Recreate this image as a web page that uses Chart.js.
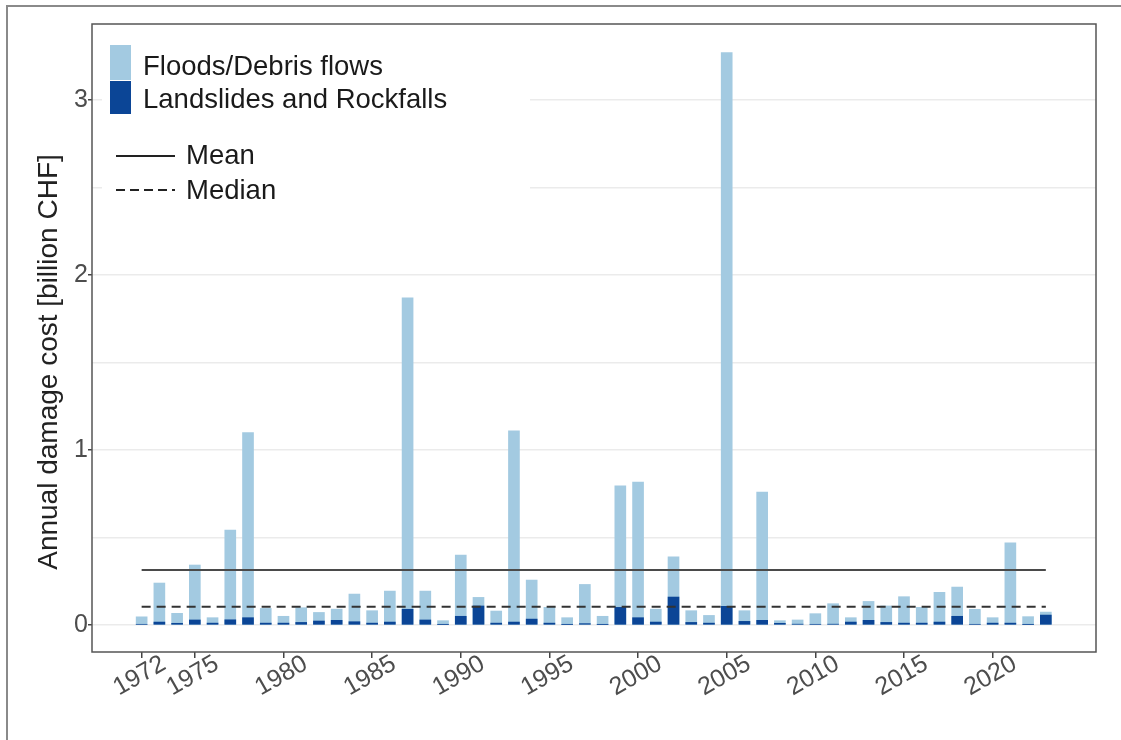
<!DOCTYPE html>
<html>
<head>
<meta charset="utf-8">
<script src="https://cdn.jsdelivr.net/npm/chart.js@4.4.1/dist/chart.umd.min.js"></script>
<style>
  html, body { margin: 0; padding: 0; background: #fff; }
  #c { display: block; }
</style>
</head>
<body>
<canvas id="c" width="1121" height="740"></canvas>
<script>
// ---------------- DATA ----------------
const years = [1972,1973,1974,1975,1976,1977,1978,1979,1980,1981,1982,1983,1984,1985,1986,1987,1988,1989,1990,1991,1992,1993,1994,1995,1996,1997,1998,1999,2000,2001,2002,2003,2004,2005,2006,2007,2008,2009,2010,2011,2012,2013,2014,2015,2016,2017,2018,2019,2020,2021,2022,2023];
const floodsDebris = [0.047,0.24,0.067,0.343,0.042,0.543,1.10,0.095,0.05,0.099,0.072,0.091,0.177,0.082,0.194,1.87,0.194,0.025,0.40,0.158,0.08,1.11,0.257,0.101,0.042,0.232,0.05,0.795,0.817,0.091,0.39,0.082,0.055,3.27,0.082,0.76,0.025,0.029,0.065,0.122,0.042,0.135,0.109,0.162,0.101,0.187,0.217,0.09,0.042,0.47,0.048,0.074];
const landslidesRockfalls = [0.004,0.017,0.01,0.029,0.011,0.03,0.042,0.011,0.011,0.015,0.023,0.027,0.019,0.011,0.017,0.09,0.029,0.003,0.05,0.109,0.011,0.017,0.034,0.011,0.003,0.008,0.003,0.101,0.042,0.017,0.16,0.015,0.011,0.107,0.021,0.027,0.01,0.005,0.004,0.005,0.017,0.027,0.015,0.011,0.011,0.017,0.05,0.004,0.011,0.011,0.003,0.057];
const meanValue = 0.314;
const medianValue = 0.105;
const xTickYears = [1972,1975,1980,1985,1990,1995,2000,2005,2010,2015,2020];
const yTickValues = [0,0.5,1,1.5,2,2.5,3];
const seriesLabels = ['Floods/Debris flows','Landslides and Rockfalls'];
const lineLabels = ['Mean','Median'];
const yTitle = 'Annual damage cost [billion CHF]';

// ---------------- STYLE ----------------
const LIGHT = '#a3cae1';
const DARK = '#0b4596';
const FONT = '"Liberation Sans", Arial, sans-serif';

const floodPts = years.map((y, i) => ({ x: y, y: floodsDebris[i] }));
const slidePts = years.map((y, i) => ({ x: y, y: landslidesRockfalls[i] }));
const firstYear = years[0], lastYear = years[years.length - 1];

const framePlugin = {
  id: 'frame',
  beforeDraw(chart) {
    const ctx = chart.ctx;
    ctx.save();
    ctx.fillStyle = '#fff';
    ctx.fillRect(0, 0, chart.width, chart.height);
    ctx.strokeStyle = '#8a8a8a';
    ctx.lineWidth = 2;
    ctx.beginPath();
    ctx.moveTo(7, chart.height);
    ctx.lineTo(7, 6);
    ctx.lineTo(chart.width, 6);
    ctx.stroke();
    ctx.restore();
  },
  afterDraw(chart) {
    const ctx = chart.ctx;
    const a = chart.chartArea;
    ctx.save();
    // panel border
    ctx.strokeStyle = '#555';
    ctx.lineWidth = 1.5;
    ctx.strokeRect(a.left, a.top, a.right - a.left, a.bottom - a.top);

    // y axis title
    ctx.save();
    ctx.fillStyle = '#222';
    ctx.font = '28px ' + FONT;
    ctx.textAlign = 'center';
    ctx.textBaseline = 'middle';
    ctx.translate(49, 362);
    ctx.rotate(-Math.PI / 2);
    ctx.fillText(yTitle, 0, 0);
    ctx.restore();

    // x tick labels, rotated 30deg, centred under tick
    const xs = chart.scales.x;
    ctx.fillStyle = '#4d4d4d';
    ctx.font = '25px ' + FONT;
    ctx.textAlign = 'center';
    ctx.textBaseline = 'middle';
    xTickYears.forEach(v => {
      const px = xs.getPixelForValue(v);
      ctx.save();
      ctx.translate(px - 2, a.bottom + 24);
      ctx.rotate(-Math.PI / 6);
      ctx.fillText(String(v), 0, 0);
      ctx.restore();
    });

    // legend
    ctx.fillStyle = '#fff';
    ctx.fillRect(102, 36, 428, 176);
    ctx.fillStyle = LIGHT;
    ctx.fillRect(110, 45, 21, 35);
    ctx.fillStyle = DARK;
    ctx.fillRect(110, 81, 21, 33);
    ctx.fillStyle = '#1a1a1a';
    ctx.font = '27.5px ' + FONT;
    ctx.textAlign = 'left';
    ctx.textBaseline = 'middle';
    ctx.fillText(seriesLabels[0], 143, 67);
    ctx.fillText(seriesLabels[1], 143, 100);
    ctx.strokeStyle = '#222';
    ctx.lineWidth = 2;
    ctx.beginPath(); ctx.moveTo(116, 156); ctx.lineTo(175, 156); ctx.stroke();
    ctx.setLineDash([9, 5]);
    ctx.beginPath(); ctx.moveTo(116, 190); ctx.lineTo(175, 190); ctx.stroke();
    ctx.setLineDash([]);
    ctx.fillText(lineLabels[0], 186, 156);
    ctx.fillText(lineLabels[1], 186, 191);
    ctx.restore();
  }
};

new Chart(document.getElementById('c'), {
  type: 'bar',
  data: {
    datasets: [
      { type: 'line', label: lineLabels[0], data: [{x: firstYear, y: meanValue}, {x: lastYear, y: meanValue}],
        borderColor: '#4a4a4a', borderWidth: 2, pointRadius: 0, order: 0 },
      { type: 'line', label: lineLabels[1], data: [{x: firstYear, y: medianValue}, {x: lastYear, y: medianValue}],
        borderColor: '#333', borderWidth: 2, borderDash: [9, 6], pointRadius: 0, order: 0 },
      { label: seriesLabels[1], data: slidePts, backgroundColor: DARK, grouped: false, barThickness: 11, order: 1 },
      { label: seriesLabels[0], data: floodPts, backgroundColor: LIGHT, grouped: false, barThickness: 11, order: 2 }
    ]
  },
  options: {
    responsive: false,
    devicePixelRatio: 1,
    animation: false,
    layout: { padding: { left: 0, top: 24, right: 25, bottom: 0 } },
    plugins: { legend: { display: false }, tooltip: { enabled: false } },
    scales: {
      x: {
        type: 'linear',
        offset: false,
        min: 1969.2,
        max: 2025.83,
        afterBuildTicks(scale) { scale.ticks = xTickYears.map(v => ({ value: v })); },
        afterFit(scale) { scale.height = 88; },
        ticks: { display: false },
        grid: { offset: false, drawOnChartArea: false, drawTicks: true, tickLength: 6, tickColor: '#444', lineWidth: 1.5 },
        border: { display: false }
      },
      y: {
        min: -0.154,
        max: 3.434,
        afterBuildTicks(scale) { scale.ticks = yTickValues.map(v => ({ value: v })); },
        afterFit(scale) { scale.width = 92; },
        ticks: {
          color: '#4d4d4d',
          font: { family: FONT, size: 25 },
          padding: 0,
          callback: v => (v % 1 === 0 ? String(v) : '')
        },
        grid: {
          color: '#ebebeb',
          lineWidth: 1.5,
          tickLength: 4,
          tickColor: c => (c.tick && c.tick.value % 1 === 0 ? '#444' : 'rgba(0,0,0,0)')
        },
        border: { display: false },
        title: { display: false }
      }
    }
  },
  plugins: [framePlugin]
});
</script>
</body>
</html>
